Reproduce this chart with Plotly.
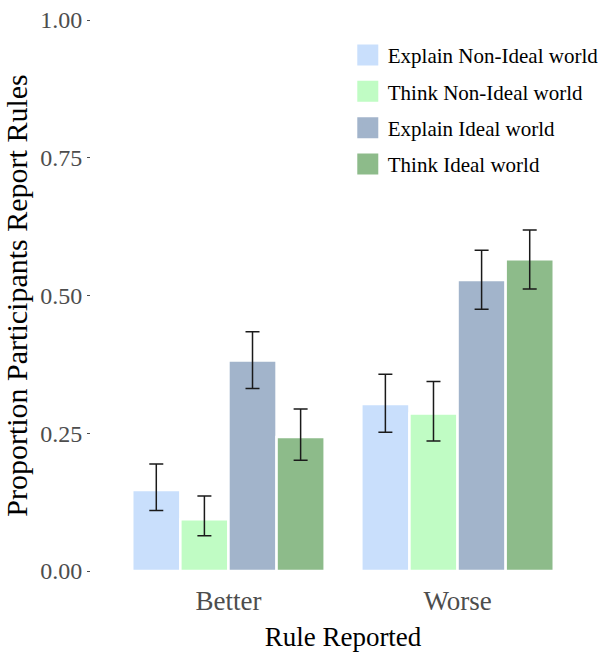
import plotly.graph_objects as go

categories = ["Better", "Worse"]
series_names = ["Explain Non-Ideal world", "Think Non-Ideal world", "Explain Ideal world", "Think Ideal world"]
explain_nonideal = [0.147, 0.303]
think_nonideal = [0.094, 0.286]
explain_ideal = [0.382, 0.528]
think_ideal = [0.243, 0.566]
explain_nonideal_upper = [0.194, 0.357]
think_nonideal_upper = [0.136, 0.344]
explain_ideal_upper = [0.434, 0.582]
think_ideal_upper = [0.294, 0.619]
explain_nonideal_lower = [0.110, 0.252]
think_nonideal_lower = [0.064, 0.236]
explain_ideal_lower = [0.331, 0.475]
think_ideal_lower = [0.201, 0.512]
y_tick_vals = [0, 0.25, 0.5, 0.75, 1.0]
y_tick_labels = ["0.00", "0.25", "0.50", "0.75", "1.00"]

colors = ["#C9DFFC", "#C0FCC4", "#A2B4CB", "#8DBB8A"]
values = [explain_nonideal, think_nonideal, explain_ideal, think_ideal]
uppers = [explain_nonideal_upper, think_nonideal_upper, explain_ideal_upper, think_ideal_upper]
lowers = [explain_nonideal_lower, think_nonideal_lower, explain_ideal_lower, think_ideal_lower]

FONT = "Liberation Serif"
fig = go.Figure()
for name, vals, up, lo, c in zip(series_names, values, uppers, lowers, colors):
    fig.add_trace(go.Bar(
        x=categories, y=vals, name=name, showlegend=False, legendgroup=name,
        marker=dict(color=c, line=dict(color="white", width=2.5)),
        error_y=dict(type="data", symmetric=False,
                     array=[u - v for u, v in zip(up, vals)],
                     arrayminus=[v - l for v, l in zip(vals, lo)],
                     color="#1a1a1a", thickness=1.5, width=7),
    ))
for name, c in zip(series_names, colors):
    fig.add_trace(go.Scatter(
        x=[None], y=[None], mode="markers", name=name, legendgroup=name,
        marker=dict(symbol="square", size=16, color=c, line=dict(color=c, width=5)),
    ))

fig.update_layout(
    width=606, height=652,
    margin=dict(l=91, r=2, t=20, b=81),
    paper_bgcolor="white", plot_bgcolor="white",
    barmode="group", bargap=0.16, bargroupgap=0,
    font=dict(family=FONT, color="black"),
    legend=dict(x=0.5095, xanchor="left", y=0.973, yanchor="top",
                font=dict(family=FONT, size=21, color="black"),
                bgcolor="rgba(0,0,0,0)", itemsizing="trace", tracegroupgap=6),
    xaxis=dict(type="category", range=[-0.6, 1.6], showgrid=False, zeroline=False,
               showline=False, ticks="outside", ticklen=6, tickcolor="rgba(0,0,0,0)",
               automargin=False,
               tickfont=dict(family=FONT, size=27, color="#4d4d4d"),
               title=dict(text="Rule Reported", standoff=12,
                          font=dict(family=FONT, size=27, color="black"))),
    yaxis=dict(range=[0, 1], tickvals=y_tick_vals, ticktext=y_tick_labels,
               showgrid=False, zeroline=False, showline=False,
               ticks="outside", ticklen=3, tickcolor="#4d4d4d", tickwidth=1,
               ticklabeloverflow="allow", automargin=False,
               tickfont=dict(family=FONT, size=24, color="#4d4d4d"),
               title=dict(text="Proportion Participants Report Rules", standoff=15,
                          font=dict(family=FONT, size=30, color="black"))),
)
fig.write_html("out.html", config={"displayModeBar": False},
               post_script="document.body.style.margin='0';")
